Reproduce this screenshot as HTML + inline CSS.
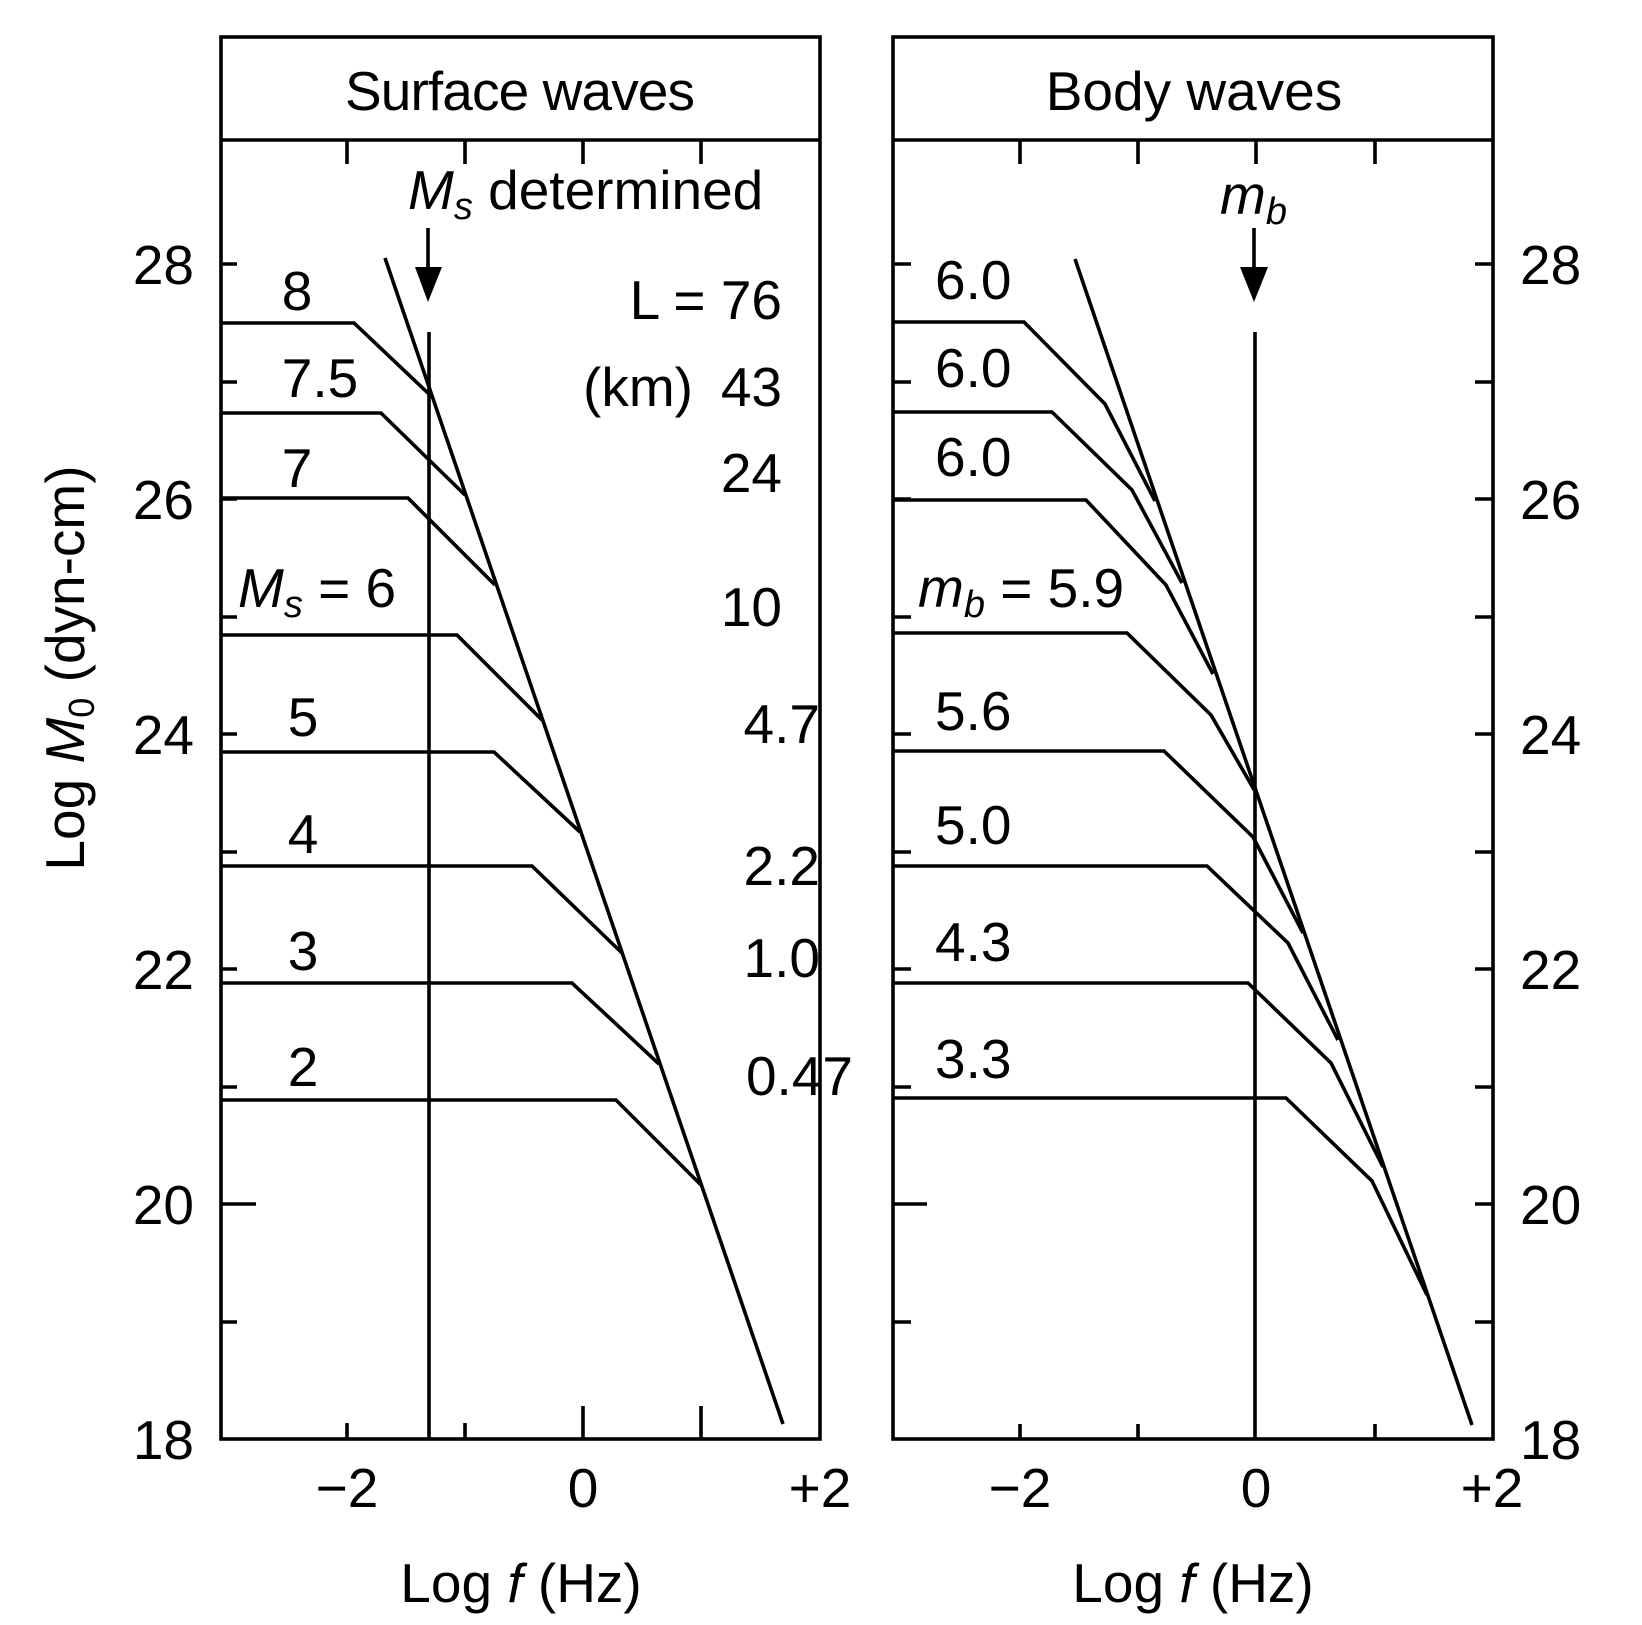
<!DOCTYPE html>
<html><head><meta charset="utf-8"><style>
html,body{margin:0;padding:0;background:#fff}
svg{display:block}
text{font-family:"Liberation Sans",sans-serif;font-size:55px;fill:#000}
.i{font-style:italic}
</style></head><body>
<svg width="1642" height="1625" viewBox="0 0 1642 1625" xmlns="http://www.w3.org/2000/svg">
<g fill="none" stroke="#000" stroke-width="3.6" stroke-linejoin="miter">
<rect x="221" y="37" width="599" height="1402"/>
<line x1="221" y1="140" x2="820" y2="140"/>
<path d="M347 140V164M465 140V164M583 140V164M701 140V164"/>
<path d="M347 1439V1423M465 1439V1423M583 1439V1406M701 1439V1406"/>
<path d="M221 264H237M221 382H237M221 499H237M221 617H237M221 734H237M221 852H237M221 969H237M221 1087H237M221 1204H256M221 1322H237"/>
<line x1="429" y1="332" x2="429" y2="1439"/>
<line x1="428" y1="228" x2="428" y2="272"/>
<line x1="385" y1="258" x2="783" y2="1424"/>
<polyline points="221,323 354,323 430,395"/>
<polyline points="221,413 381,413 465,495"/>
<polyline points="221,498 408,498 495,585"/>
<polyline points="221,635 457,635 542,720"/>
<polyline points="221,752 494,752 580,832"/>
<polyline points="221,866 532,866 622,953"/>
<polyline points="221,983 572,983 659,1064"/>
<polyline points="221,1100 616,1100 701,1185"/>

<rect x="893" y="37" width="600" height="1402"/>
<line x1="893" y1="140" x2="1493" y2="140"/>
<path d="M1020 140V164M1138 140V164M1256 140V164M1375 140V164"/>
<path d="M1020 1439V1424M1138 1439V1424M1375 1439V1424"/>
<path d="M893 264H911M893 382H911M893 499H911M893 617H911M893 734H911M893 852H911M893 969H911M893 1087H911M893 1204H927M893 1322H911"/>
<path d="M1493 264H1475M1493 382H1475M1493 499H1475M1493 617H1475M1493 734H1475M1493 852H1475M1493 969H1475M1493 1087H1475M1493 1204H1475M1493 1322H1475"/>
<line x1="1255" y1="332" x2="1255" y2="1439"/>
<line x1="1254" y1="228" x2="1254" y2="272"/>
<line x1="1075" y1="259" x2="1472" y2="1425"/>
<polyline points="893,322 1024,322 1105,404 1155,501"/>
<polyline points="893,412 1052,412 1132,490 1182,583"/>
<polyline points="893,500 1086,500 1166,585 1213,674"/>
<polyline points="893,633 1127,633 1211,715 1256,793"/>
<polyline points="893,751 1164,751 1253,837 1303,933"/>
<polyline points="893,866 1207,866 1288,943 1338,1040"/>
<polyline points="893,983 1248,983 1331,1063 1383,1167"/>
<polyline points="893,1098 1286,1098 1372,1181 1427,1295"/>
</g>
<polygon points="415,267 442,267 428,302" fill="#000"/>
<polygon points="1240,267 1268,267 1254,302" fill="#000"/>

<text x="520" y="110" text-anchor="middle" textLength="350">Surface waves</text>
<text x="1194" y="110" text-anchor="middle">Body waves</text>

<g text-anchor="end">
<text x="194" y="284">28</text>
<text x="194" y="519">26</text>
<text x="194" y="754">24</text>
<text x="194" y="989">22</text>
<text x="194" y="1224">20</text>
<text x="194" y="1459">18</text>
</g>
<g>
<text x="1520" y="284">28</text>
<text x="1520" y="519">26</text>
<text x="1520" y="754">24</text>
<text x="1520" y="989">22</text>
<text x="1520" y="1224">20</text>
<text x="1520" y="1459">18</text>
</g>
<g text-anchor="middle">
<text x="347" y="1507">−2</text>
<text x="583" y="1507">0</text>
<text x="820" y="1507">+2</text>
<text x="1020" y="1507">−2</text>
<text x="1256" y="1507">0</text>
<text x="1492" y="1507">+2</text>
<text x="521" y="1602">Log <tspan class="i">f</tspan> (Hz)</text>
<text x="1193" y="1602">Log <tspan class="i">f</tspan> (Hz)</text>
</g>
<text transform="translate(84,668) rotate(-90)" text-anchor="middle">Log <tspan class="i">M</tspan><tspan font-size="36" dy="10">0</tspan><tspan dy="-10"> (dyn-cm)</tspan></text>

<text x="408" y="209"><tspan class="i">M</tspan><tspan class="i" font-size="38" dy="10">s</tspan><tspan dy="-10"> determined</tspan></text>
<g text-anchor="middle">
<text x="297" y="310">8</text>
<text x="320" y="397">7.5</text>
<text x="297" y="487">7</text>
<text x="303" y="736">5</text>
<text x="303" y="853">4</text>
<text x="303" y="970">3</text>
<text x="303" y="1086">2</text>
</g>
<text x="238" y="607"><tspan class="i">M</tspan><tspan class="i" font-size="38" dy="10">s</tspan><tspan dy="-10"> = 6</tspan></text>
<g text-anchor="end">
<text x="782" y="319">L = 76</text>
<text x="693" y="406">(km)</text>
<text x="782" y="406">43</text>
<text x="782" y="492">24</text>
<text x="782" y="626">10</text>
<text x="820" y="743">4.7</text>
<text x="820" y="885">2.2</text>
<text x="820" y="977">1.0</text>
<text x="853" y="1095">0.47</text>
</g>

<text x="1220" y="214"><tspan class="i">m</tspan><tspan class="i" font-size="38" dy="10">b</tspan></text>
<g>
<text x="935" y="299">6.0</text>
<text x="935" y="387">6.0</text>
<text x="935" y="476">6.0</text>
<text x="918" y="607"><tspan class="i">m</tspan><tspan class="i" font-size="38" dy="10">b</tspan><tspan dy="-10"> = 5.9</tspan></text>
<text x="935" y="730">5.6</text>
<text x="935" y="844">5.0</text>
<text x="935" y="961">4.3</text>
<text x="935" y="1078">3.3</text>
</g>
</svg>
</body></html>
